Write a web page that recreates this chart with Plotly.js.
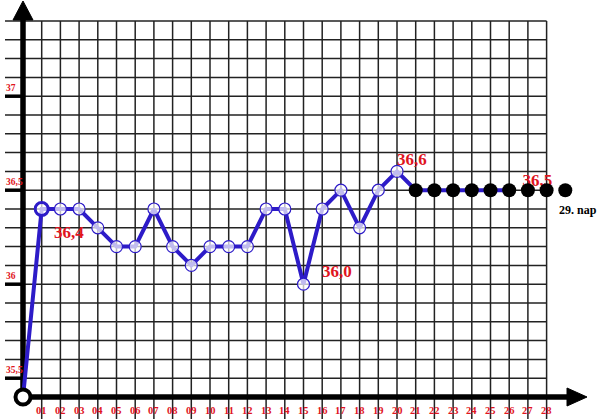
<!DOCTYPE html>
<html><head><meta charset="utf-8">
<script src="https://cdn.plot.ly/plotly-3.0.1.min.js"></script>
<style>html,body{margin:0;padding:0;background:#fff;overflow:hidden}#chart{width:600px;height:419px}</style>
</head><body><div id="chart"></div>
<script>
// ---- data ----
const dayLabels = ['01','02','03','04','05','06','07','08','09','10','11','12','13','14',
                   '15','16','17','18','19','20','21','22','23','24','25','26','27','28'];
const days = [1,2,3,4,5,6,7,8,9,10,11,12,13,14,15,16,17,18,19,20,21,22,23,24,25,26,27,28,29];
const temps = [36.4,36.4,36.4,36.3,36.2,36.2,36.4,36.2,36.1,36.2,36.2,36.2,36.4,36.4,36.0,
               36.4,36.5,36.3,36.5,36.6,36.5,36.5,36.5,36.5,36.5,36.5,36.5,36.5,36.5];
const startDay = 0, startTemp = 35.4;
const measuredDays = 20;   // open circles through day 20
const lineDays = 26;       // blue line through day 26
const yTickVals = [35.5, 36, 36.5, 37];
const yTickText = ['35,5', '36', '36,5', '37'];
const gridTop = 37.4;
const lastLabel = '29. nap';

// ---- geometry helpers (pixel -> data, for decorations only) ----
const X0 = 23, XS = 18.7, Y0 = 21, YS = 188;
const px2x = p => (p - X0) / XS;
const px2y = p => gridTop - (p - Y0) / YS;

const RED = '#e0141e', BLUE = '#2d1bc8';
const serif = 'Liberation Serif, Times New Roman, serif';

const shapes = [];
// vertical grid lines
for (let d = 1; d <= dayLabels.length; d++) {
  shapes.push({type:'line', xref:'x', yref:'y', x0:d, x1:d, y0:gridTop, y1:px2y(419),
               line:{color:'#222', width:1.5}, layer:'below'});
}
// horizontal grid lines (every 0.1)
for (let k = 0; k <= 19; k++) {
  const t = +(35.5 + k * 0.1).toFixed(1);
  shapes.push({type:'line', xref:'x', yref:'y', x0:px2x(5), x1:dayLabels.length, y0:t, y1:t,
               line:{color:'#222', width:1.5}, layer:'below'});
}
// thick ticks at labelled values
yTickVals.forEach(t => shapes.push({type:'line', xref:'x', yref:'y', x0:px2x(5), x1:0, y0:t, y1:t,
  line:{color:'#000', width:3.5}, layer:'below'}));
// axes
shapes.push({type:'line', xref:'x', yref:'y', x0:0, x1:0, y0:startTemp, y1:px2y(18), line:{color:'#000', width:5.5}, layer:'below'});
shapes.push({type:'line', xref:'x', yref:'y', x0:0, x1:px2x(572), y0:startTemp, y1:startTemp, line:{color:'#000', width:5.5}, layer:'below'});
// arrow heads
shapes.push({type:'path', xref:'x', yref:'y',
  path:`M ${px2x(23)} ${px2y(1)} L ${px2x(13)} ${px2y(20)} L ${px2x(33)} ${px2y(20)} Z`,
  fillcolor:'#000', line:{color:'#000', width:1}, layer:'below'});
shapes.push({type:'path', xref:'x', yref:'y',
  path:`M ${px2x(587)} ${px2y(397)} L ${px2x(567)} ${px2y(388)} L ${px2x(567)} ${px2y(406)} Z`,
  fillcolor:'#000', line:{color:'#000', width:1}, layer:'below'});

const annotations = [];
// x tick labels
dayLabels.forEach((lab, i) => annotations.push({x:i+1, y:px2y(410), xref:'x', yref:'y', text:lab,
  showarrow:false, xanchor:'center', yanchor:'middle',
  font:{family:serif, size:10.5, color:RED, weight:700}}));
// y tick labels
yTickVals.forEach((t, i) => annotations.push({x:px2x(4), y:t, xref:'x', yref:'y', text:yTickText[i],
  showarrow:false, xanchor:'left', yanchor:'middle', yshift:8,
  font:{family:serif, size:9.5, color:RED, weight:700}}));
// value labels
const labelDays = [1, 15, 20];
const labelShift = [[27, -23], [33, 13], [15, 12]];
labelDays.forEach((d, i) => annotations.push({x:d, y:temps[d-1], xref:'x', yref:'y',
  text:temps[d-1].toFixed(1).replace('.', ','), showarrow:false,
  xshift:labelShift[i][0], yshift:labelShift[i][1],
  font:{family:serif, size:17, color:RED, weight:700}}));
// "29. nap"
annotations.push({x:days[days.length-1], y:temps[temps.length-1], xref:'x', yref:'y', text:lastLabel,
  showarrow:false, xanchor:'left', yanchor:'middle', xshift:-8, yshift:-20,
  font:{family:serif, size:12, color:'#000', weight:700}});

const lineX = [startDay].concat(days.slice(0, lineDays));
const lineY = [startTemp].concat(temps.slice(0, lineDays));

const traces = [
  {x:lineX, y:lineY, mode:'lines', line:{color:BLUE, width:4}, hoverinfo:'skip'},
  {x:days.slice(1, measuredDays), y:temps.slice(1, measuredDays), mode:'markers',
   marker:{size:12, color:'rgba(255,255,255,0.7)', line:{color:BLUE, width:1.2}}},
  {x:[days[0]], y:[temps[0]], mode:'markers',
   marker:{size:13, color:'rgba(255,255,255,0.7)', line:{color:BLUE, width:3}}},
  {x:[startDay], y:[startTemp], mode:'markers',
   marker:{size:15, color:'#fff', line:{color:'#000', width:4}}},
  {x:[27.5], y:[temps[26]], mode:'text', text:[temps[26].toFixed(1).replace('.', ',')],
   textposition:'top center', textfont:{family:serif, size:17, color:RED, weight:700}},
  {x:days.slice(measuredDays), y:temps.slice(measuredDays), mode:'markers',
   marker:{size:14, color:'#000', line:{color:'#000', width:0}}}
];

const layout = {
  width:600, height:419, margin:{l:0, r:0, t:0, b:0},
  paper_bgcolor:'#fff', plot_bgcolor:'#fff', showlegend:false,
  xaxis:{range:[px2x(0), px2x(600)], visible:false, fixedrange:true},
  yaxis:{range:[px2y(419), px2y(0)], visible:false, fixedrange:true},
  shapes:shapes, annotations:annotations
};
Plotly.newPlot('chart', traces, layout, {staticPlot:true, displayModeBar:false});
</script>
</body></html>
